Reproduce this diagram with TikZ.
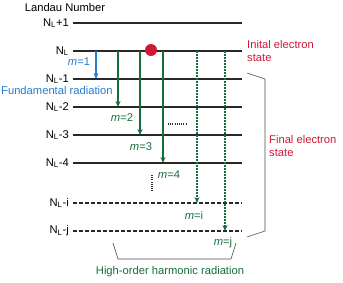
\documentclass[tikz,border=0pt]{standalone}
\usepackage{fontspec}
\setmainfont{Liberation Sans}
\usetikzlibrary{arrows.meta}
\definecolor{blu}{RGB}{35,125,205}
\definecolor{grn}{RGB}{20,110,60}
\definecolor{rd}{RGB}{205,25,55}
\definecolor{lvl}{RGB}{40,40,40}
\newcommand{\NL}{N\textsubscript{L}}
\begin{document}
\begin{tikzpicture}[x=1pt,y=-1pt, font=\fontsize{11.2}{12.5}\selectfont,
 level/.style={line width=1.8pt, draw=lvl},
 dlevel/.style={level, dash pattern=on 4pt off 2pt},
 trans/.style={line width=1.6pt, -{Stealth[length=6pt,width=5pt]}},
 dtrans/.style={trans, dash pattern=on 2pt off 1pt},
 lab/.style={anchor=east, inner sep=0pt},
 txt/.style={inner sep=0pt},
 brk/.style={draw=black!70, line width=0.6pt}]
\useasboundingbox (0,0) rectangle (343,282);
\node[txt] (title) at (65,7) {Landau Number};
% levels
\foreach \n/\y/\t in {p1/23/{\NL+1},l0/51/{\NL},m1/79/{\NL-1},m2/107/{\NL-2},m3/135/{\NL-3},m4/163/{\NL-4}}{
  \node[lab] (n\n) at (69,\y) {\t};
  \coordinate (s\n) at (73,\y);
  \coordinate (e\n) at (242,\y);
  \draw[level] (s\n) -- (e\n);
}
\foreach \n/\y/\t in {mi/203/{\NL-i},mj/231/{\NL-j}}{
  \node[lab] (n\n) at (69,\y) {\t};
  \coordinate (s\n) at (73,\y);
  \coordinate (e\n) at (242,\y);
  \draw[dlevel] (s\n) -- (e\n);
}
% transitions
\coordinate (a1s) at (96,51);  \coordinate (a1e) at (96,79);
\coordinate (a2s) at (118,51); \coordinate (a2e) at (118,107);
\coordinate (a3s) at (140,51); \coordinate (a3e) at (140,135);
\coordinate (a4s) at (163,51); \coordinate (a4e) at (163,163);
\coordinate (ais) at (197,51); \coordinate (aie) at (197,203);
\coordinate (ajs) at (225,51); \coordinate (aje) at (225,231);
\draw[trans, blu] (a1s) -- (a1e);
\draw[trans, grn] (a2s) -- (a2e);
\draw[trans, grn] (a3s) -- (a3e);
\draw[trans, grn] (a4s) -- (a4e);
\draw[dtrans, grn] (ais) -- (aie);
\draw[dtrans, grn] (ajs) -- (aje);
% electron
\node[circle, fill=rd, minimum size=12pt, inner sep=0pt] (el) at (151,50) {};
% labels
\node[txt, blu] (t1) at (79,62) {\textit{m}=1};
\node[txt, blu, anchor=west] (fund) at (1,90) {Fundamental radiation};
\node[txt, grn] (t2) at (122,118) {\textit{m}=2};
\node[txt, grn] (t3) at (141,147) {\textit{m}=3};
\node[txt, grn] (t4) at (169,175) {\textit{m}=4};
\node[txt, grn] (ti) at (194,215) {\textit{m}=i};
\node[txt, grn] (tj) at (223,243) {\textit{m}=j};
% dots
\coordinate (h1) at (168,124); \coordinate (h2) at (186,124);
\draw[line width=1.2pt, black!80, dash pattern=on 1pt off 1.2pt] (h1) -- (h2);
\coordinate (v1) at (152,175); \coordinate (v2) at (152,191);
\draw[line width=1.2pt, black!80, dash pattern=on 1pt off 1.2pt] (v1) -- (v2);
% state labels
\node[txt, rd, anchor=west, align=left] (init) at (247,51) {Inital electron\\state};
\node[txt, rd, anchor=west, align=left] (fin) at (269,146) {Final electron\\state};
% brackets
\coordinate (b1) at (247,73); \coordinate (b2) at (265,79);
\coordinate (b3) at (265,231); \coordinate (b4) at (247,237);
\draw[brk] (b1) -- (b2) -- (b3) -- (b4);
\coordinate (c1) at (113,243); \coordinate (c2) at (118,259);
\coordinate (c3) at (231,259); \coordinate (c4) at (236,243);
\draw[brk] (c1) -- (c2) -- (c3) -- (c4);
\node[txt, grn] (hh) at (170,272) {High-order harmonic radiation};
\end{tikzpicture}
\end{document}
